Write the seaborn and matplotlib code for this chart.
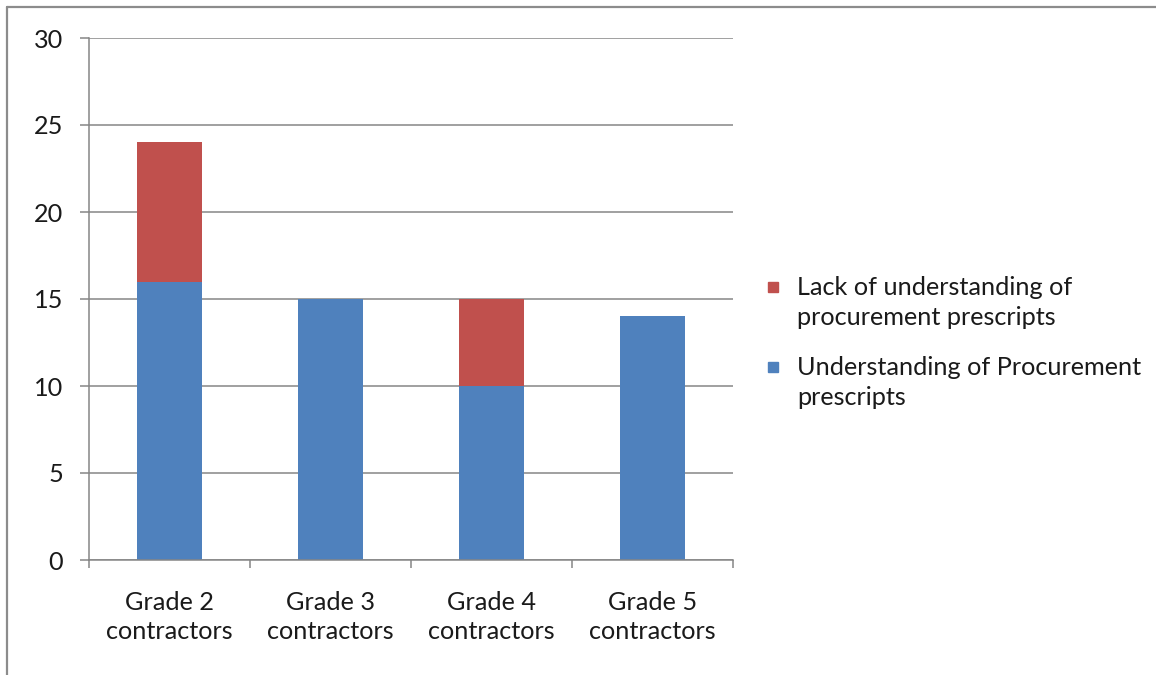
import matplotlib
matplotlib.use("Agg")
import matplotlib.pyplot as plt
from matplotlib.lines import Line2D
from matplotlib.patches import Rectangle
import seaborn as sns
import pandas as pd

# data
categories = ["Grade 2\ncontractors", "Grade 3\ncontractors", "Grade 4\ncontractors", "Grade 5\ncontractors"]
understanding = [16, 15, 10, 14]
lack = [8, 0, 5, 0]
series_names = ["Lack of understanding of\nprocurement prescripts",
                "Understanding of Procurement\nprescripts"]
y_ticks = [0, 5, 10, 15, 20, 25, 30]

BLUE = "#4F81BD"
RED = "#C0504D"
GRID = "#868686"

sns.set_theme(style="white")
plt.rcParams["font.family"] = ["Lato", "DejaVu Sans"]
FS = 18.2

df = pd.DataFrame({"category": categories, "understanding": understanding, "lack": lack})
df["total"] = df["understanding"] + df["lack"]

fig = plt.figure(figsize=(11.56, 6.75), dpi=100)
ax = fig.add_axes([89 / 1156, 1 - 560 / 675, (733 - 89) / 1156, (560 - 38) / 675])

# stacked bars: totals in red first, blue part drawn over it
sns.barplot(data=df, x="category", y="total", color=RED, width=0.4, saturation=1,
            linewidth=0, ax=ax)
sns.barplot(data=df, x="category", y="understanding", color=BLUE, width=0.4, saturation=1,
            linewidth=0, ax=ax)

ax.set_ylim(0, 30)
ax.set_xlim(-0.5, len(categories) - 0.5)
ax.set_yticks(y_ticks)
ax.set_xlabel("")
ax.set_ylabel("")
ax.yaxis.grid(True, color=GRID, linewidth=1.1)
ax.set_axisbelow(True)

for side in ["top", "right"]:
    ax.spines[side].set_visible(False)
for side in ["left", "bottom"]:
    ax.spines[side].set_color(GRID)
    ax.spines[side].set_linewidth(1.1)

ax.tick_params(axis="y", which="major", left=True, length=6.5, width=1.1, color=GRID,
               pad=12, labelsize=FS, labelcolor="#1a1a1a")
ax.tick_params(axis="x", which="major", bottom=False, length=0, pad=22,
               labelsize=FS, labelcolor="#1a1a1a")
ax.set_xticks([i + 0.5 for i in range(-1, len(categories))], minor=True)
ax.tick_params(axis="x", which="minor", bottom=True, length=6, width=1.1, color=GRID)
for lbl in ax.get_xticklabels():
    lbl.set_linespacing(1.35)

# legend, drawn by hand so the swatch sits on the first text line
legend_rows = [(series_names[0], RED, 287), (series_names[1], BLUE, 367)]
for name, col, ypix in legend_rows:
    fig.patches.append(Rectangle((768 / 1156, 1 - (ypix + 5) / 675), 10 / 1156, 10 / 675,
                                 transform=fig.transFigure, color=col))
    fig.text(797 / 1156, 1 - (ypix - 11) / 675, name, fontsize=FS, color="#1a1a1a",
             va="top", ha="left", linespacing=1.35)

# outer frame (only left and top edges visible in the screenshot)
fig.add_artist(Line2D([7 / 1156, 7 / 1156], [0, 1 - 7 / 675], transform=fig.transFigure,
                      color="#8c8c8c", linewidth=1.6))
fig.add_artist(Line2D([7 / 1156, 1], [1 - 7 / 675, 1 - 7 / 675], transform=fig.transFigure,
                      color="#8c8c8c", linewidth=1.6))

fig.savefig("out.png", dpi=100)
plt.close(fig)
